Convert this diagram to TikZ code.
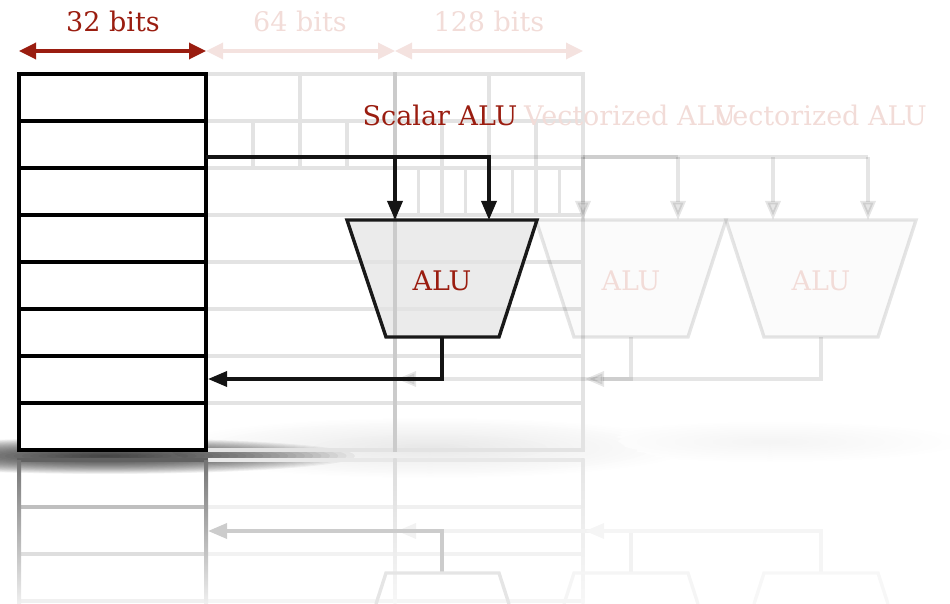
\documentclass[tikz,border=0pt]{standalone}
\usepackage{fontspec}
\setmainfont{DejaVu Serif}
\usetikzlibrary{arrows.meta}
\definecolor{myred}{HTML}{9A1D10}
\definecolor{fadered}{HTML}{F4E2DF}
\definecolor{fadetext}{HTML}{F2DCD8}
\definecolor{gridgray}{HTML}{E3E3E3}
\definecolor{midgray}{HTML}{CBCBCB}
\begin{document}
\begin{tikzpicture}[x=1pt,y=-1pt,
  lbl/.style={font=\fontsize{27}{30}\selectfont, anchor=base, inner sep=0pt},
  gridl/.style={draw=gridgray, line width=3.4pt},
  regl/.style={draw=black, line width=4pt},
  mainarr/.style={draw=black!92, line width=3.4pt, -{Triangle[length=19pt,width=15pt]}},
  fadearr/.style={draw=black, opacity=0.1, line width=3.4pt, -{Triangle[length=19pt,width=15pt]}},
  fadeline/.style={draw=black, opacity=0.1, line width=3.4pt},
  redarr/.style={draw=myred, line width=3.4pt, {Triangle[length=17pt,width=16pt]}-{Triangle[length=17pt,width=16pt]}},
  fadedbl/.style={draw=fadered, line width=3.4pt, {Triangle[length=17pt,width=16pt]}-{Triangle[length=17pt,width=16pt]}},
  alufade/.style={draw=black, draw opacity=0.1, fill=black, fill opacity=0.015, line width=3.4pt},
  alumain/.style={draw=black!90, line width=3.4pt},
  reflarr/.style={line width=3.4pt, -{Triangle[length=19pt,width=15pt]}},
]
\useasboundingbox (0,0) rectangle (950,604);

% ---------- soft shadows ----------
\foreach \i in {20,19,...,1}{
  \pgfmathsetmacro\ca{9*(21-\i)/20}
  \pgfmathsetmacro\cb{4*(21-\i)/20}
  \fill[black!\ca] (430,448) ellipse ({260*\i/20} and {30*\i/20});
  \fill[black!\cb] (770,442) ellipse ({190*\i/20} and {20*\i/20});
}
\foreach \i in {1,...,30}{
  \fill[black, opacity=0.045] (105,456) ellipse ({250*\i/30} and {18*\i/30});
}

% ---------- reflection ----------
\foreach \yy/\cc in {460/9,507/6,554/5,601/4}{
  \draw[draw=black!\cc, line width=3.4pt] (206,\yy) -- (583,\yy);
}
\shade[top color=black!14, bottom color=black!3] (393.3,458) rectangle (396.7,604);
\shade[top color=black!10, bottom color=black!3] (581.3,458) rectangle (584.7,604);
% faded reflected outputs
\draw[reflarr, draw=black!5] (631,573) |- (397,531);
\draw[reflarr, draw=black!4] (821,573) |- (585,531);
\draw[draw=black!4, line width=3.4pt] (564,604) -- (574,573) -- (688,573) -- (698,604);
\draw[draw=black!3, line width=3.4pt] (754,604) -- (764,573) -- (878,573) -- (888,604);
% reflected scalar output
\draw[reflarr, draw=black!20] (442,573) |- (208,531);
\draw[draw=black!10, line width=3.4pt] (376,604) -- (386,573) -- (499,573) -- (509,604);
% reflected register
\draw[draw=black!62, line width=4pt] (17,460) -- (208,460);
\draw[draw=black!25, line width=4pt] (19,507) -- (206,507);
\draw[draw=black!13, line width=4pt] (19,554) -- (206,554);
\draw[draw=black!6, line width=4pt] (19,601) -- (206,601);
\shade[top color=black!55, bottom color=black!6] (17,460) rectangle (21,604);
\shade[top color=black!55, bottom color=black!6] (204,460) rectangle (208,604);

% ---------- main ALU fill (under grid) ----------
\fill[black, opacity=0.08] (347,220) -- (537,220) -- (499,337) -- (386,337) -- cycle;

% ---------- faded register grid ----------
\foreach \yy in {74,121,168,215,262,309,356,403,450}{
  \draw[gridl] (206,\yy) -- (583,\yy);
}
\draw[gridl] (583,72.3) -- (583,451.7);
\foreach \xx in {300,489}{ \draw[gridl] (\xx,74) -- (\xx,121); }
\foreach \xx in {253,300,347,442,489,536}{ \draw[gridl] (\xx,121) -- (\xx,168); }
\foreach \xx in {418.5,442,465.5,489,512.5,536,559.5}{ \draw[gridl] (\xx,168) -- (\xx,215); }
\draw[draw=midgray, line width=3.4pt] (395,72.3) -- (395,451.7);

% ---------- faded top width arrows and labels ----------
\coordinate (w0) at (19,51);
\coordinate (w1) at (206,51);
\coordinate (w2) at (395,51);
\coordinate (w3) at (583,51);
\draw[fadedbl] (w1) -- (w2);
\draw[fadedbl] (w2) -- (w3);
\node[lbl, text=fadetext] (t64) at (300,32) {64 bits};
\node[lbl, text=fadetext] (t128) at (489,32) {128 bits};

% ---------- faded vectorized ALUs ----------
\node[lbl, text=fadetext] (v1) at (630,126) {Vectorized ALU};
\node[lbl, text=fadetext] (v2) at (821,126) {Vectorized ALU};
\draw[alufade] (536,220) -- (726,220) -- (688,337) -- (574,337) -- cycle;
\draw[alufade] (726,220) -- (916,220) -- (878,337) -- (764,337) -- cycle;
\node[lbl, text=fadetext] (alu2) at (631,290) {ALU};
\node[lbl, text=fadetext] (alu3) at (821,290) {ALU};

\coordinate (sA) at (395,157);
\coordinate (sB) at (583,157);
\coordinate (iA) at (583,220);
\coordinate (iB) at (678,220);
\coordinate (iC) at (773,220);
\coordinate (iD) at (868,220);
\draw[fadeline] (sA) -- (678,157);
\draw[fadeline] (sB) -- (868,157);
\draw[fadearr] (583,157) -- (iA);
\draw[fadearr] (678,157) -- (iB);
\draw[fadearr] (773,157) -- (iC);
\draw[fadearr] (868,157) -- (iD);

\coordinate (oB) at (631,337);
\coordinate (oC) at (821,337);
\coordinate (gA) at (397,379);
\coordinate (gB) at (585,379);
\draw[fadearr] (oB) |- (gA);
\draw[fadearr] (oC) |- (gB);

% ---------- register file ----------
\draw[regl, fill=white] (19,74) rectangle (206,450);
\foreach \yy in {121,168,215,262,309,356,403}{
  \draw[regl] (19,\yy) -- (206,\yy);
}

% ---------- main scalar path ----------
\draw[alumain, line join=miter] (347,220) -- (537,220) -- (499,337) -- (386,337) -- cycle;
\node[lbl, text=myred] (alu1) at (442,290) {ALU};
\coordinate (regA) at (206,157);
\coordinate (in1) at (395,220);
\coordinate (in2) at (489,220);
\coordinate (out1) at (442,337);
\coordinate (regB) at (208,379);
\draw[mainarr] (regA) -| (in1);
\draw[mainarr] (regA) -| (in2);
\draw[mainarr] (out1) |- (regB);

% ---------- main labels ----------
\draw[redarr] (w0) -- (w1);
\node[lbl, text=myred] (t32) at (113,32) {32 bits};
\node[lbl, text=myred] (sc) at (440,126) {Scalar ALU};
\end{tikzpicture}
\end{document}
